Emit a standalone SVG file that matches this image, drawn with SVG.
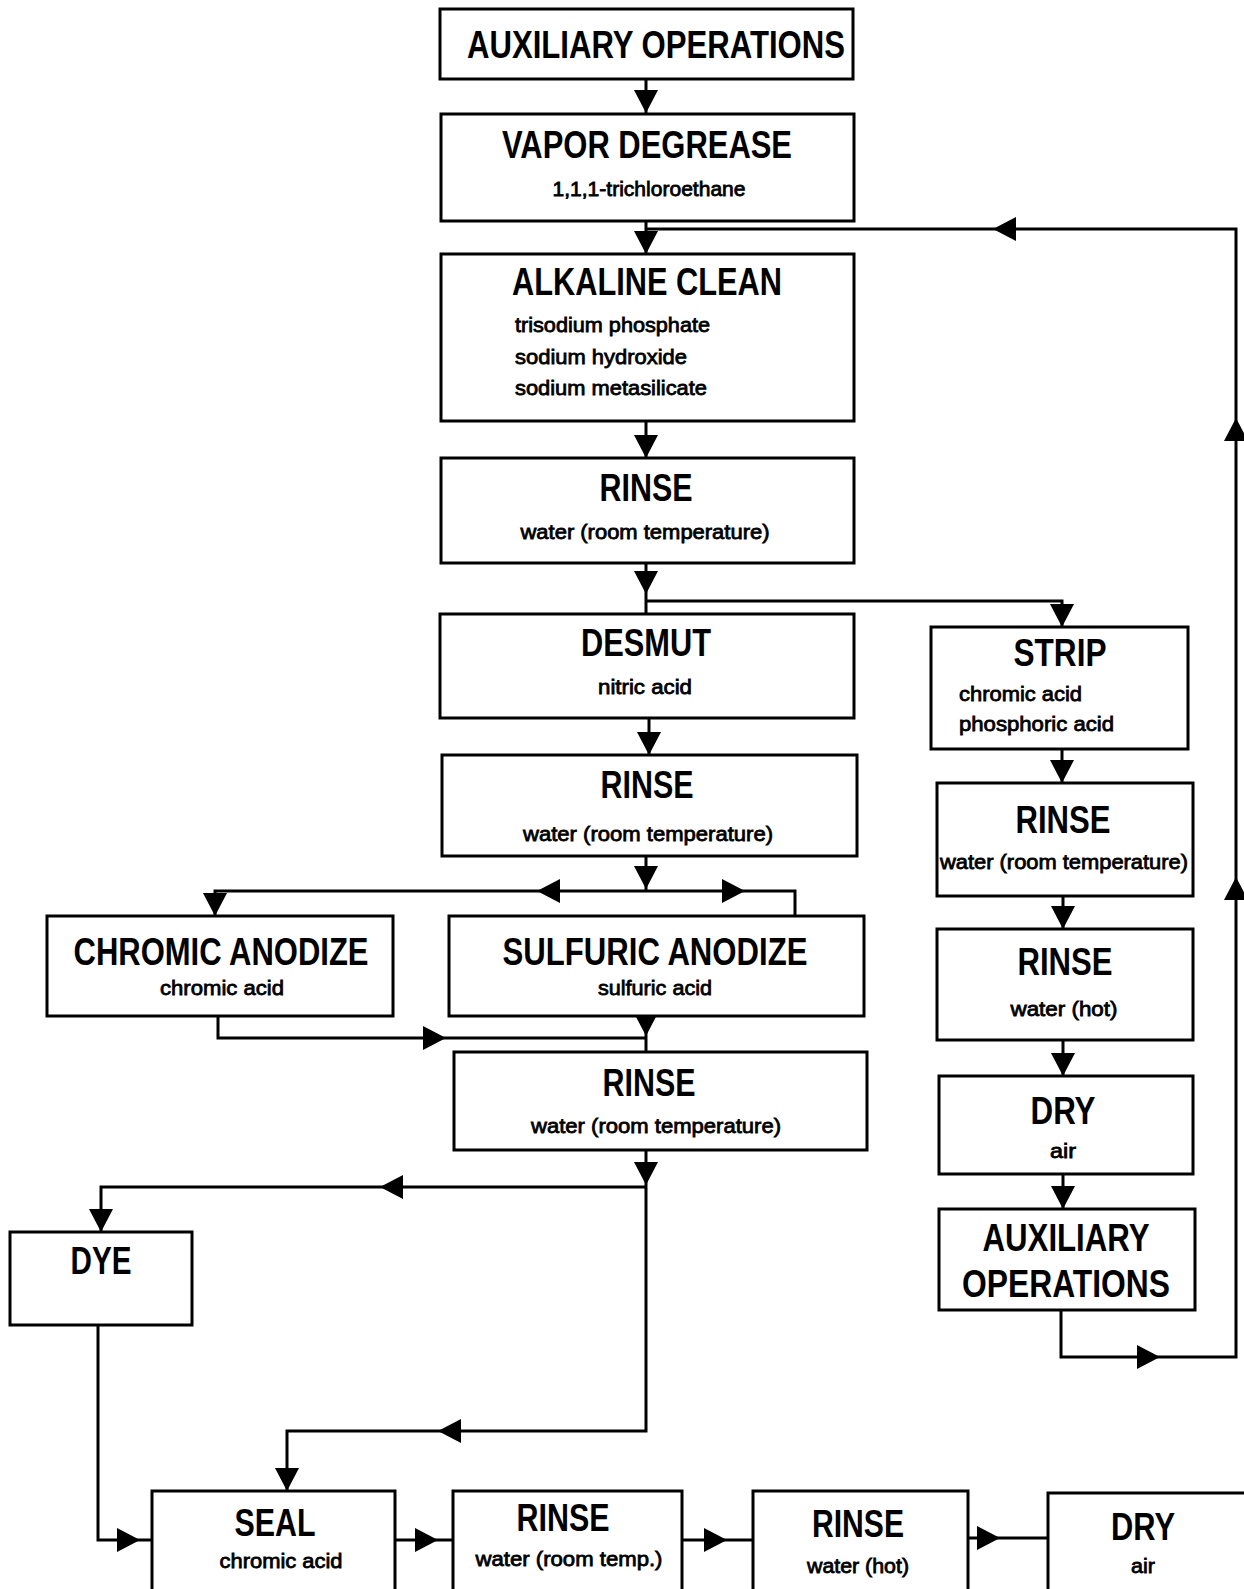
<svg xmlns="http://www.w3.org/2000/svg" xmlns:xlink="http://www.w3.org/1999/xlink" width="1244" height="1589" viewBox="0 0 1244 1589">
<style>
.box{fill:#fff;stroke:#000;stroke-width:3}
.t{font-family:"Liberation Sans",Arial,sans-serif;font-weight:bold;font-size:38px;text-anchor:middle;fill:#000}
.s{font-family:"Liberation Sans",Arial,sans-serif;font-size:21px;fill:#000;stroke:#000;stroke-width:0.8}
.m{text-anchor:middle}
.c{fill:none;stroke:#000;stroke-width:3}
</style>
<defs>
<path id="ah" d="M0,0 L-12,-23 L12,-23 Z" fill="#000"/>
</defs>
<rect width="1244" height="1589" fill="#fff"/>
<g id="connectors">
<path class="c" d="M646,79 V113"/>
<use xlink:href="#ah" transform="translate(646,113)"/>
<path class="c" d="M646,221 V254"/>
<use xlink:href="#ah" transform="translate(646,254)"/>
<path class="c" d="M646,229 H1236 V1357 H1061 V1310"/>
<use xlink:href="#ah" transform="translate(993,229) rotate(90)"/>
<use xlink:href="#ah" transform="translate(1236,418) rotate(180)"/>
<use xlink:href="#ah" transform="translate(1236,877) rotate(180)"/>
<use xlink:href="#ah" transform="translate(1160,1357) rotate(-90)"/>
<path class="c" d="M646,421 V458"/>
<use xlink:href="#ah" transform="translate(646,458)"/>
<path class="c" d="M646,563 V614"/>
<use xlink:href="#ah" transform="translate(646,594)"/>
<path class="c" d="M646,601 H1062 V627"/>
<use xlink:href="#ah" transform="translate(1062,627)"/>
<path class="c" d="M649,718 V755"/>
<use xlink:href="#ah" transform="translate(649,755)"/>
<path class="c" d="M646,856 V891"/>
<use xlink:href="#ah" transform="translate(646,889)"/>
<path class="c" d="M215,916 V891 H795 V916"/>
<use xlink:href="#ah" transform="translate(215,916)"/>
<use xlink:href="#ah" transform="translate(537,891) rotate(90)"/>
<use xlink:href="#ah" transform="translate(745,891) rotate(-90)"/>
<path class="c" d="M218,1016 V1038 H646"/>
<use xlink:href="#ah" transform="translate(446,1038) rotate(-90)"/>
<path class="c" d="M646,1016 V1052"/>
<use xlink:href="#ah" transform="translate(646,1036)"/>
<path class="c" d="M646,1150 V1431 H287 V1491"/>
<use xlink:href="#ah" transform="translate(646,1185)"/>
<path class="c" d="M646,1187 H101 V1232"/>
<use xlink:href="#ah" transform="translate(380,1187) rotate(90)"/>
<use xlink:href="#ah" transform="translate(101,1232)"/>
<use xlink:href="#ah" transform="translate(438,1431) rotate(90)"/>
<use xlink:href="#ah" transform="translate(287,1491)"/>
<path class="c" d="M98,1325 V1540 H152"/>
<use xlink:href="#ah" transform="translate(140,1540) rotate(-90)"/>
<path class="c" d="M395,1540 H453"/>
<use xlink:href="#ah" transform="translate(438,1540) rotate(-90)"/>
<path class="c" d="M682,1540 H753"/>
<use xlink:href="#ah" transform="translate(727,1540) rotate(-90)"/>
<path class="c" d="M968,1538 H1048"/>
<use xlink:href="#ah" transform="translate(1000,1538) rotate(-90)"/>
<path class="c" d="M1062,749 V783"/>
<use xlink:href="#ah" transform="translate(1062,783)"/>
<path class="c" d="M1063,896 V929"/>
<use xlink:href="#ah" transform="translate(1063,929)"/>
<path class="c" d="M1063,1040 V1076"/>
<use xlink:href="#ah" transform="translate(1063,1076)"/>
<path class="c" d="M1063,1174 V1209"/>
<use xlink:href="#ah" transform="translate(1063,1209)"/>
</g>
<g id="aux-top">
<rect class="box" x="440" y="9" width="413" height="70"/>
<text class="t" x="656" y="58" textLength="378" lengthAdjust="spacingAndGlyphs">AUXILIARY OPERATIONS</text>
</g>
<g id="vapor-degrease">
<rect class="box" x="441" y="114" width="413" height="107"/>
<text class="t" x="647" y="158" textLength="290" lengthAdjust="spacingAndGlyphs">VAPOR DEGREASE</text>
<text class="s m" x="649" y="196" textLength="193" lengthAdjust="spacingAndGlyphs">1,1,1-trichloroethane</text>
</g>
<g id="alkaline-clean">
<rect class="box" x="441" y="254" width="413" height="167"/>
<text class="t" x="647" y="295" textLength="270" lengthAdjust="spacingAndGlyphs">ALKALINE CLEAN</text>
<text class="s" x="515" y="332" textLength="195" lengthAdjust="spacingAndGlyphs">trisodium phosphate</text>
<text class="s" x="515" y="364" textLength="172" lengthAdjust="spacingAndGlyphs">sodium hydroxide</text>
<text class="s" x="515" y="395" textLength="192" lengthAdjust="spacingAndGlyphs">sodium metasilicate</text>
</g>
<g id="rinse-1">
<rect class="box" x="441" y="458" width="413" height="105"/>
<text class="t" x="646" y="501" textLength="93" lengthAdjust="spacingAndGlyphs">RINSE</text>
<text class="s m" x="645" y="539" textLength="249" lengthAdjust="spacingAndGlyphs">water (room temperature)</text>
</g>
<g id="desmut">
<rect class="box" x="440" y="614" width="414" height="104"/>
<text class="t" x="646" y="656" textLength="130" lengthAdjust="spacingAndGlyphs">DESMUT</text>
<text class="s m" x="645" y="694" textLength="94" lengthAdjust="spacingAndGlyphs">nitric acid</text>
</g>
<g id="rinse-2">
<rect class="box" x="442" y="755" width="415" height="101"/>
<text class="t" x="647" y="798" textLength="93" lengthAdjust="spacingAndGlyphs">RINSE</text>
<text class="s m" x="648" y="841" textLength="250" lengthAdjust="spacingAndGlyphs">water (room temperature)</text>
</g>
<g id="chromic-anodize">
<rect class="box" x="47" y="916" width="346" height="100"/>
<text class="t" x="221" y="965" textLength="295" lengthAdjust="spacingAndGlyphs">CHROMIC ANODIZE</text>
<text class="s m" x="222" y="995" textLength="124" lengthAdjust="spacingAndGlyphs">chromic acid</text>
</g>
<g id="sulfuric-anodize">
<rect class="box" x="449" y="916" width="415" height="100"/>
<text class="t" x="655" y="965" textLength="305" lengthAdjust="spacingAndGlyphs">SULFURIC ANODIZE</text>
<text class="s m" x="655" y="995" textLength="114" lengthAdjust="spacingAndGlyphs">sulfuric acid</text>
</g>
<g id="rinse-3">
<rect class="box" x="454" y="1052" width="413" height="98"/>
<text class="t" x="649" y="1096" textLength="93" lengthAdjust="spacingAndGlyphs">RINSE</text>
<text class="s m" x="656" y="1133" textLength="250" lengthAdjust="spacingAndGlyphs">water (room temperature)</text>
</g>
<g id="dye">
<rect class="box" x="10" y="1232" width="182" height="93"/>
<text class="t" x="101" y="1274" textLength="61" lengthAdjust="spacingAndGlyphs">DYE</text>
</g>
<g id="seal">
<rect class="box" x="152" y="1491" width="243" height="100"/>
<text class="t" x="275" y="1536" textLength="81" lengthAdjust="spacingAndGlyphs">SEAL</text>
<text class="s m" x="281" y="1568" textLength="123" lengthAdjust="spacingAndGlyphs">chromic acid</text>
</g>
<g id="rinse-room-temp">
<rect class="box" x="453" y="1491" width="229" height="100"/>
<text class="t" x="563" y="1531" textLength="93" lengthAdjust="spacingAndGlyphs">RINSE</text>
<text class="s m" x="569" y="1566" textLength="187" lengthAdjust="spacingAndGlyphs">water (room temp.)</text>
</g>
<g id="rinse-hot-bottom">
<rect class="box" x="753" y="1491" width="215" height="100"/>
<text class="t" x="858" y="1537" textLength="92" lengthAdjust="spacingAndGlyphs">RINSE</text>
<text class="s m" x="858" y="1573" textLength="102" lengthAdjust="spacingAndGlyphs">water (hot)</text>
</g>
<g id="dry-bottom">
<rect class="box" x="1048" y="1493" width="198" height="98"/>
<text class="t" x="1143" y="1540" textLength="64" lengthAdjust="spacingAndGlyphs">DRY</text>
<text class="s m" x="1143" y="1573" textLength="24" lengthAdjust="spacingAndGlyphs">air</text>
</g>
<g id="strip">
<rect class="box" x="931" y="627" width="257" height="122"/>
<text class="t" x="1060" y="666" textLength="93" lengthAdjust="spacingAndGlyphs">STRIP</text>
<text class="s" x="959" y="701" textLength="123" lengthAdjust="spacingAndGlyphs">chromic acid</text>
<text class="s" x="959" y="731" textLength="155" lengthAdjust="spacingAndGlyphs">phosphoric acid</text>
</g>
<g id="rinse-right-1">
<rect class="box" x="937" y="783" width="256" height="113"/>
<text class="t" x="1063" y="833" textLength="95" lengthAdjust="spacingAndGlyphs">RINSE</text>
<text class="s m" x="1064" y="869" textLength="248" lengthAdjust="spacingAndGlyphs">water (room temperature)</text>
</g>
<g id="rinse-right-hot">
<rect class="box" x="937" y="929" width="256" height="111"/>
<text class="t" x="1065" y="975" textLength="95" lengthAdjust="spacingAndGlyphs">RINSE</text>
<text class="s m" x="1064" y="1016" textLength="107" lengthAdjust="spacingAndGlyphs">water (hot)</text>
</g>
<g id="dry-right">
<rect class="box" x="939" y="1076" width="254" height="98"/>
<text class="t" x="1063" y="1124" textLength="65" lengthAdjust="spacingAndGlyphs">DRY</text>
<text class="s m" x="1063" y="1158" textLength="26" lengthAdjust="spacingAndGlyphs">air</text>
</g>
<g id="aux-right">
<rect class="box" x="939" y="1209" width="256" height="101"/>
<text class="t" x="1066" y="1251" textLength="167" lengthAdjust="spacingAndGlyphs">AUXILIARY</text>
<text class="t" x="1066" y="1297" textLength="208" lengthAdjust="spacingAndGlyphs">OPERATIONS</text>
</g>
</svg>
